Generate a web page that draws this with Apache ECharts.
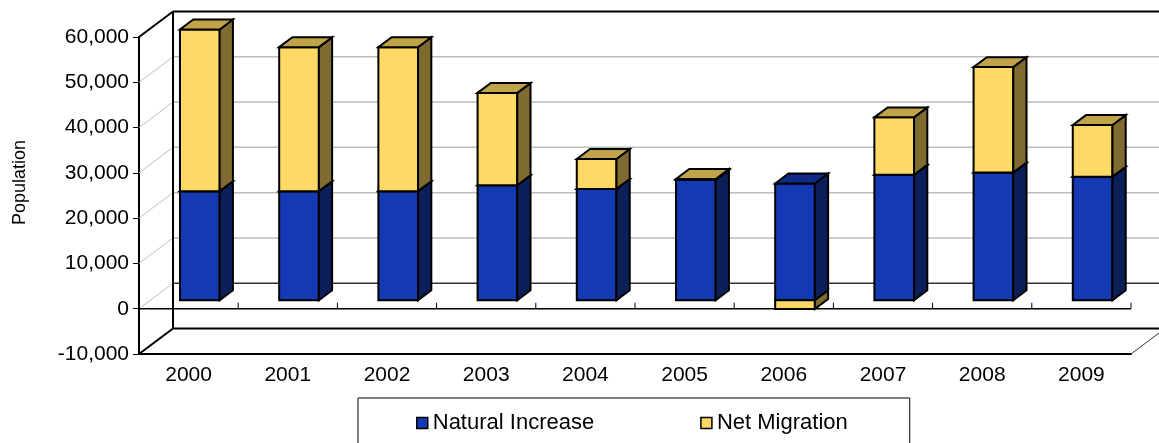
<!DOCTYPE html>
<html>
<head>
<meta charset="utf-8">
<script src="https://cdn.jsdelivr.net/npm/echarts@6/dist/echarts.min.js"></script>
<style>
  html, body { margin: 0; padding: 0; background: #fff; }
  #chart { width: 1159px; height: 443px; }
</style>
</head>
<body>
<div id="chart"></div>
<script>
// data
const years = ['2000', '2001', '2002', '2003', '2004', '2005', '2006', '2007', '2008', '2009']
const naturalIncrease = [24100, 24100, 24100, 25400, 24600, 26600, 25800, 27700, 28200, 27300]
const netMigration = [35700, 31800, 31800, 20400, 6600, 200, -1900, 12700, 23300, 11400]
const yTicks = [-10000, 0, 10000, 20000, 30000, 40000, 50000, 60000]

// fake 3d: depth vector of the box, bar placed between T0 and T1 of it
const DX = 34
const DY = -25.5
const T0 = 0.33
const T1 = 0.72

const FONT = 'Liberation Sans'

const blue = { front: '#133ab3', side: '#0b1f5b', top: '#0f2b85' }
const yellow = { front: '#ffd966', side: '#7f6b30', top: '#c1a449' }

function stackRows(base, vals) {
  return vals.map((v, i) => {
    const b = base ? base[i] : 0
    return v >= 0 ? [i, b, b + v] : [i, v, 0]
  })
}

function barRenderer(c) {
  return function (params, api) {
    const i = api.value(0)
    const lo = api.value(1)
    const hi = api.value(2)
    const hw = api.size([1, 0])[0] * 0.2
    const pLo = api.coord([i, lo])
    const pHi = api.coord([i, hi])
    const xl = pLo[0] - hw + T0 * DX
    const xr = pLo[0] + hw + T0 * DX
    const yb = pLo[1] + T0 * DY
    const yt = pHi[1] + T0 * DY
    const sx = (T1 - T0) * DX
    const sy = (T1 - T0) * DY
    const st = { stroke: '#000', lineWidth: 2, lineJoin: 'miter' }
    const kids = [
      { type: 'polygon', shape: { points: [[xl, yt], [xr, yt], [xr, yb], [xl, yb]] }, style: Object.assign({ fill: c.front }, st) },
      { type: 'polygon', shape: { points: [[xr, yt], [xr + sx, yt + sy], [xr + sx, yb + sy], [xr, yb]] }, style: Object.assign({ fill: c.side }, st) }
    ]
    if (lo >= 0) {
      kids.push({ type: 'polygon', shape: { points: [[xl, yt], [xl + sx, yt + sy], [xr + sx, yt + sy], [xr, yt]] }, style: Object.assign({ fill: c.top }, st) })
    }
    return { type: 'group', children: kids }
  }
}

function frameRenderer(params, api) {
  const cs = params.coordSys
  const x0 = cs.x
  const x1 = cs.x + cs.width
  const bw = api.size([1, 0])[0]
  const y = v => api.coord([0, v])[1]
  const kids = []
  const line = (a, b, color, w) => kids.push({
    type: 'line', shape: { x1: a[0], y1: a[1], x2: b[0], y2: b[1] },
    style: { stroke: color, lineWidth: w }
  })
  const top = yTicks[yTicks.length - 1]
  const bot = yTicks[0]
  yTicks.forEach(v => {
    const edge = v === top || v === bot
    const col = edge ? '#000' : (v === 0 ? '#333' : '#bdbdbd')
    const w = edge ? 2 : 1.5
    line([x0 + DX, y(v) + DY], [x1 + DX, y(v) + DY], col, w)
    line([x0, y(v)], [x0 + DX, y(v) + DY], edge ? '#000' : '#bdbdbd', edge ? 2 : 1)
  })
  // back wall left edge
  line([x0 + DX, y(top) + DY], [x0 + DX, y(bot) + DY], '#000', 2)
  // floor right edge
  line([x1, y(bot)], [x1 + DX, y(bot) + DY], '#333', 1)
  // category line at zero with ticks
  line([x0, y(0)], [x1, y(0)], '#000', 1.5)
  for (let k = 1; k <= years.length; k++) {
    const xt = x0 + k * bw
    line([xt, y(0)], [xt, y(0) - 6], '#000', 1)
  }
  return { type: 'group', children: kids }
}

const chart = echarts.init(document.getElementById('chart'))
chart.setOption({
  animation: false,
  grid: { left: 139, right: 28, top: 37, bottom: 89 },
  legend: {
    data: ['Natural Increase', 'Net Migration'],
    left: 358,
    top: 398,
    orient: 'horizontal',
    icon: 'rect',
    itemWidth: 11,
    itemHeight: 11,
    itemGap: 106,
    padding: [14, 62, 20, 58],
    backgroundColor: '#fff',
    borderColor: '#000',
    borderWidth: 1,
    itemStyle: { borderColor: '#000', borderWidth: 1.5 },
    textStyle: { fontFamily: FONT, fontSize: 22, color: '#000' }
  },
  xAxis: {
    type: 'category',
    data: years,
    boundaryGap: true,
    axisLine: { onZero: false, lineStyle: { color: '#000', width: 2 } },
    axisTick: { inside: true, length: 6, lineStyle: { color: '#000' } },
    axisLabel: { margin: 11, fontFamily: FONT, fontSize: 21, color: '#000' },
    splitLine: { show: false }
  },
  yAxis: {
    type: 'value',
    min: -10000,
    max: 60000,
    interval: 10000,
    name: 'Population',
    nameLocation: 'middle',
    nameGap: 110,
    nameTextStyle: { fontFamily: FONT, fontSize: 18, color: '#000', padding: [0, 0, 0, 26] },
    axisLine: { show: true, lineStyle: { color: '#000', width: 2 } },
    axisTick: { show: true, length: 6, lineStyle: { color: '#000' } },
    axisLabel: {
      margin: 10,
      fontFamily: FONT,
      fontSize: 21,
      color: '#000',
      formatter: v => v.toLocaleString('en-US')
    },
    splitLine: { show: false }
  },
  series: [
    {
      type: 'custom',
      z: 1,
      silent: true,
      renderItem: frameRenderer,
      data: [[0, 0]]
    },
    {
      name: 'Natural Increase',
      type: 'custom',
      z: 3,
      itemStyle: { color: blue.front },
      renderItem: barRenderer(blue),
      encode: { x: 0, y: [1, 2] },
      data: stackRows(null, naturalIncrease)
    },
    {
      name: 'Net Migration',
      type: 'custom',
      z: 4,
      itemStyle: { color: yellow.front },
      renderItem: barRenderer(yellow),
      encode: { x: 0, y: [1, 2] },
      data: stackRows(naturalIncrease, netMigration)
    }
  ]
})
</script>
</body>
</html>
